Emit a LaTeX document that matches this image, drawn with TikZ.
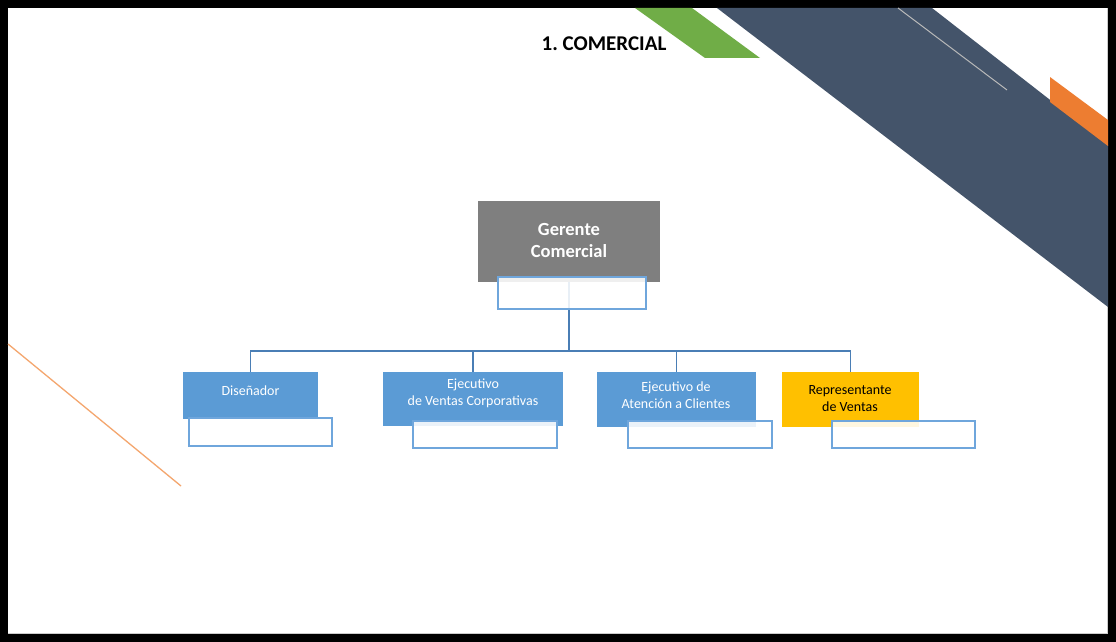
\documentclass[tikz,border=0pt]{standalone}
\usepackage{fontspec}
\setmainfont{Carlito}
\frenchspacing
\definecolor{navy}{HTML}{44546A}
\definecolor{leaf}{HTML}{70AD47}
\definecolor{tang}{HTML}{ED7D31}
\definecolor{sky}{HTML}{5B9BD5}
\definecolor{gold}{HTML}{FFC000}
\definecolor{slate}{HTML}{7F7F7F}
\definecolor{wire}{HTML}{4A7EB5}
\definecolor{rim}{HTML}{6FA6DC}
\definecolor{peach}{HTML}{F4A66E}
\tikzset{
  box/.style={draw=none, inner sep=0pt, outer sep=0pt},
  subbox/.style={draw=rim, line width=1.3pt, fill=white, fill opacity=0.88, inner sep=0pt, outer sep=0pt},
  boxtext/.style={inner sep=0pt, align=center, font=\fontsize{14}{17}\selectfont},
  link/.style={draw=wire, line width=1.4pt},
}
\begin{document}
\begin{tikzpicture}[x=1pt,y=-1pt]
% frame and slide
\fill[black] (0,0) rectangle (1116,642);
\fill[white] (8,8) rectangle (1108,634);
\draw[gray!40, line width=0.8pt] (8,633.5) -- (1107.5,633.5) -- (1107.5,8);
\useasboundingbox (0,0) rectangle (1116,642);

% decorative bands
\fill[leaf] (635,8) -- (692,8) -- (760,58) -- (705,58) -- cycle;
\fill[navy] (717,8) -- (932,8) -- (1108,145) -- (1108,307) -- cycle;
\fill[tang] (1050,77) -- (1108,120) -- (1108,146) -- (1050,102) -- cycle;
\draw[gray!55, line width=1pt] (898,8) -- (1007,90);
\draw[peach, line width=1.3pt] (8,344) -- (181,486);

% title
\node[inner sep=0pt, font=\fontsize{21}{24}\selectfont\bfseries] (title) at (604,44) {1. COMERCIAL};

% head of the department
\node[box, fill=slate, minimum width=182pt, minimum height=81pt] (ger) at (569,241.5) {};
\node[boxtext, text=white, font=\fontsize{18.5}{21}\selectfont\bfseries] (gert) at (569,240.5) {Gerente\\Comercial};

% staff boxes
\node[box, fill=sky, minimum width=135pt, minimum height=47pt] (dis) at (250.5,395.5) {};
\node[boxtext, text=white] (dist) at (250.5,391) {Diseñador};

\node[box, fill=sky, minimum width=180pt, minimum height=54pt] (ven) at (473,399) {};
\node[boxtext, text=white] (vent) at (473,393.5) {Ejecutivo\\de Ventas Corporativas};

\node[box, fill=sky, minimum width=159pt, minimum height=55pt] (ate) at (676.5,399.5) {};
\node[boxtext, text=white] (atet) at (676,395) {Ejecutivo de\\Atención a Clientes};

\node[box, fill=gold, minimum width=137pt, minimum height=55pt] (rep) at (850.5,399.5) {};
\node[boxtext, text=black] (rept) at (850,398.5) {Representante\\de Ventas};

% connectors
\draw[link] (ger.south) -- ++(0,69) coordinate (bus);
\draw[link] (bus) -| (dis.north);
\draw[link] (bus) -| (ven.north);
\draw[link] (bus) -| (ate.north);
\draw[link] (bus) -| (rep.north);

% empty name boxes
\node[subbox, minimum width=148pt, minimum height=32pt] (gers) at (572,293) {};
\node[subbox, minimum width=143pt, minimum height=28pt] (diss) at (260.5,432) {};
\node[subbox, minimum width=144pt, minimum height=27pt] (vens) at (485,434.5) {};
\node[subbox, minimum width=144pt, minimum height=27pt] (ates) at (700,434.5) {};
\node[subbox, minimum width=143pt, minimum height=27pt] (reps) at (903.5,434.5) {};
\end{tikzpicture}
\end{document}
